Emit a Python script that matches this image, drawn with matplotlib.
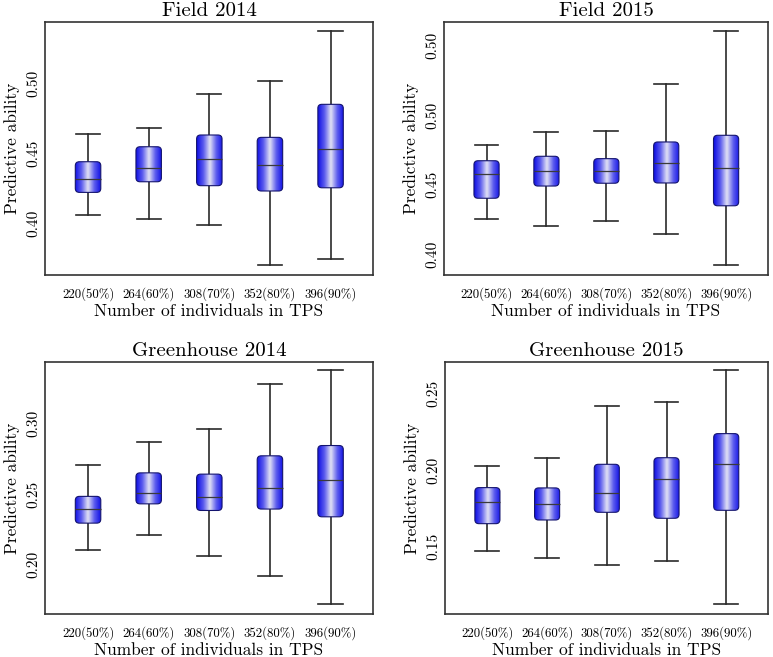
import numpy as np
import matplotlib.pyplot as plt
from matplotlib.patches import FancyBboxPatch
from matplotlib.colors import LinearSegmentedColormap

plt.rcParams['font.family'] = ['cmr10', 'DejaVu Serif']
plt.rcParams['axes.formatter.use_mathtext'] = True

tps_labels = ['220(50%)', '264(60%)', '308(70%)', '352(80%)', '396(90%)']

# Field 2014
f14_lo = [0.4061, 0.4031, 0.3986, 0.3702, 0.3747]
f14_q1 = [0.4221, 0.4297, 0.4269, 0.4231, 0.4254]
f14_med = [0.4316, 0.4393, 0.4459, 0.4416, 0.4529]
f14_q3 = [0.4440, 0.4547, 0.4631, 0.4614, 0.4850]
f14_hi = [0.4638, 0.4683, 0.4921, 0.5019, 0.5374]

# Field 2015
f15_lo = [0.4252, 0.4201, 0.4240, 0.4146, 0.3921]
f15_q1 = [0.4401, 0.4489, 0.4509, 0.4511, 0.4347]
f15_med = [0.4576, 0.4595, 0.4595, 0.4657, 0.4617]
f15_q3 = [0.4671, 0.4703, 0.4686, 0.4806, 0.4854]
f15_hi = [0.4784, 0.4878, 0.4885, 0.5225, 0.5604]

# Greenhouse 2014
g14_lo = [0.2103, 0.2209, 0.2062, 0.1921, 0.1722]
g14_q1 = [0.2294, 0.2431, 0.2384, 0.2394, 0.2339]
g14_med = [0.2394, 0.2505, 0.2481, 0.2543, 0.2597]
g14_q3 = [0.2484, 0.2651, 0.2642, 0.2772, 0.2845]
g14_hi = [0.2708, 0.2871, 0.2961, 0.3282, 0.3379]

# Greenhouse 2015
g15_lo = [0.1474, 0.1426, 0.1381, 0.1405, 0.1128]
g15_q1 = [0.1650, 0.1674, 0.1724, 0.1685, 0.1737]
g15_med = [0.1793, 0.1780, 0.1852, 0.1939, 0.2037]
g15_q3 = [0.1885, 0.1883, 0.2037, 0.2080, 0.2237]
g15_hi = [0.2028, 0.2080, 0.2419, 0.2445, 0.2652]

panels = [
    ('Field 2014', (f14_lo, f14_q1, f14_med, f14_q3, f14_hi),
     [0.40, 0.45, 0.50], ['0.40', '0.45', '0.50'], (0.3631, 0.5438)),
    ('Field 2015', (f15_lo, f15_q1, f15_med, f15_q3, f15_hi),
     [0.40, 0.45, 0.50, 0.55], ['0.40', '0.45', '0.50', '0.50'], (0.3849, 0.5669)),
    ('Greenhouse 2014', (g14_lo, g14_q1, g14_med, g14_q3, g14_hi),
     [0.20, 0.25, 0.30], ['0.20', '0.25', '0.30'], (0.1649, 0.3438)),
    ('Greenhouse 2015', (g15_lo, g15_q1, g15_med, g15_q3, g15_hi),
     [0.15, 0.20, 0.25], ['0.15', '0.20', '0.25'], (0.1061, 0.2704)),
]

W, H = 773, 657
rects = [(45, 22, 373, 275), (444, 22, 768, 275),
         (45, 362, 373, 614), (445, 362, 768, 614)]

grad_cmap = LinearSegmentedColormap.from_list(
    'boxgrad', ['#1010e4', '#5c5cee', '#e2e2f4', '#5c5cee', '#1010e4'])
grad = np.linspace(0, 1, 200).reshape(1, -1)

fig = plt.figure(figsize=(W / 100, H / 100), dpi=100)

for (title, stats, ticks, ticklabels, ylim), (x0, y0, x1, y1) in zip(panels, rects):
    ax = fig.add_axes([x0 / W, 1 - y1 / H, (x1 - x0) / W, (y1 - y0) / H])
    ax.set_xlim(0.29, 5.7)
    ax.set_ylim(*ylim)

    lo, q1, med, q3, hi = stats
    pos = np.arange(1, len(lo) + 1)
    bstats = [dict(whislo=lo[i], q1=q1[i], med=med[i], q3=q3[i], whishi=hi[i],
                   fliers=[]) for i in range(len(lo))]
    ax.bxp(bstats, positions=pos, widths=0.42, showbox=False,
           whiskerprops=dict(color='#2a2a2a', lw=1.2),
           capprops=dict(color='#2a2a2a', lw=1.2),
           medianprops=dict(color='#3a3a3a', lw=0.9, zorder=5),
           capwidths=0.40)
    ax.set_xlim(0.29, 5.7)
    ax.set_ylim(*ylim)

    # rounded gradient boxes
    p0 = ax.transData.transform((0, 0))
    p1 = ax.transData.transform((1, 1))
    sx, sy = p1[0] - p0[0], p1[1] - p0[1]
    w = 0.42
    r = 4.0 / sx
    for i, x in enumerate(pos):
        patch = FancyBboxPatch((x - w / 2, q1[i]), w, q3[i] - q1[i],
                               boxstyle='round,pad=0,rounding_size={}'.format(r),
                               mutation_aspect=sx / sy,
                               facecolor='none', edgecolor='#14146e', lw=0.8, zorder=4)
        ax.add_patch(patch)
        im = ax.imshow(grad, extent=(x - w / 2, x + w / 2, q1[i], q3[i]),
                       aspect='auto', cmap=grad_cmap, interpolation='bicubic', zorder=3)
        im.set_clip_path(patch)

    ax.set_xticks(pos)
    ax.set_xticklabels(tps_labels, fontsize=9.2)
    ax.set_yticks(ticks)
    ax.set_yticklabels(ticklabels, fontsize=11, rotation=90, va='center')
    ax.tick_params(axis='x', length=0, pad=9)
    ax.tick_params(axis='y', length=0, pad=3)
    ax.set_title(title, fontsize=15, pad=4)
    ax.set_xlabel('Number of individuals in TPS', fontsize=12.5, labelpad=2)
    ax.set_ylabel('Predictive ability', fontsize=12.5, labelpad=5)
    for s in ax.spines.values():
        s.set_color('#333333')
        s.set_linewidth(1.2)

fig.savefig('out.png', dpi=100)
